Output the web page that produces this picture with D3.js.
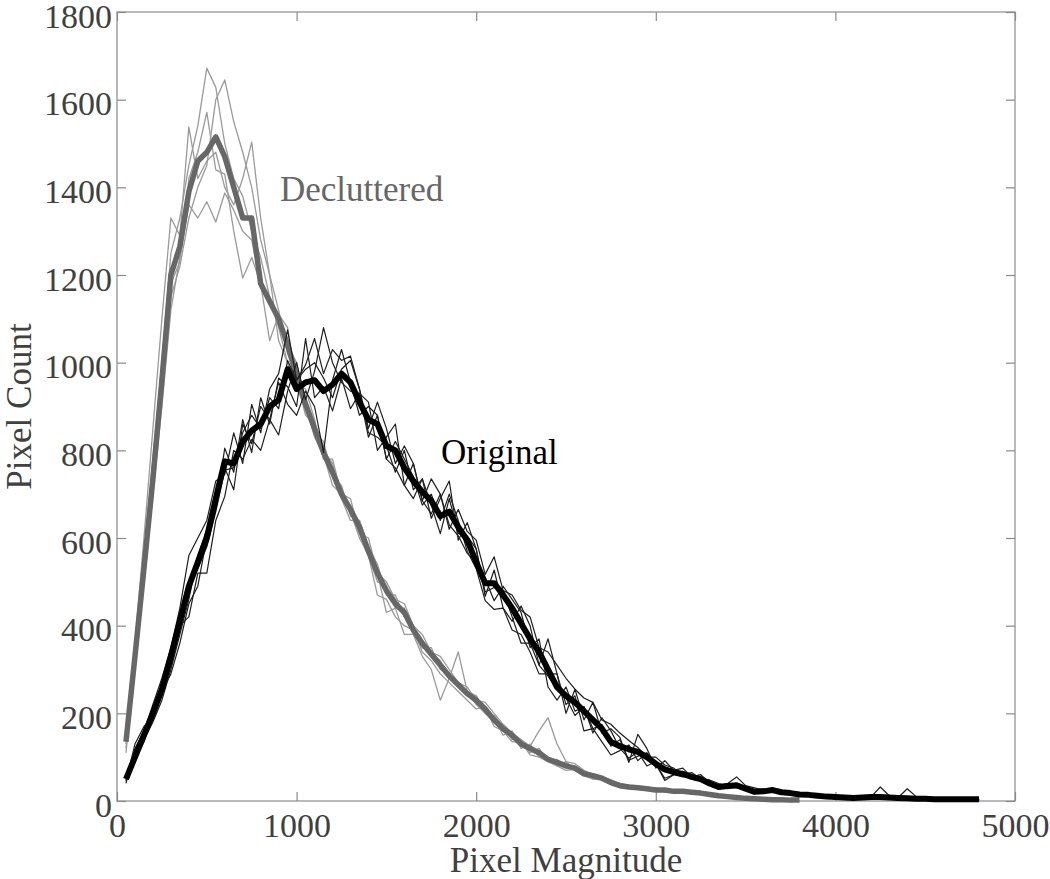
<!DOCTYPE html>
<html>
<head>
<meta charset="utf-8">
<script src="https://cdn.jsdelivr.net/npm/d3@7"></script>
<style>
  html, body { margin: 0; padding: 0; background: #fff; }
  svg { display: block; }
  text { font-family: "Liberation Serif", "Times New Roman", serif; }
</style>
</head>
<body>
<svg id="chart" width="1050" height="879"></svg>
<script>
// ---------------- DATA ----------------
const magnitudes = [50,100,150,200,250,300,350,400,450,500,550,600,650,700,750,800,850,900,950,1000,
  1050,1100,1150,1200,1250,1300,1350,1400,1450,1500,1550,1600,1650,1700,1750,1800,1850,1900,1950,2000,
  2050,2100,2150,2200,2250,2300,2350,2400,2450,2500,2550,2600,2650,2700,2750,2800,2850,2900,2950,3000,
  3050,3100,3150,3200,3250,3300,3350,3400,3450,3500,3550,3600,3650,3700,3750,3800,3850,3900,3950,4000,
  4050,4100,4150,4200,4250,4300,4350,4400,4450,4500,4550,4600,4650,4700,4750,4800];

const xTicks = [0,1000,2000,3000,4000,5000];
const yTicks = [0,200,400,600,800,1000,1200,1400,1600,1800];

// Decluttered: mean curve
const declutteredMean = [135,330,530,735,960,1200,1265,1390,1460,1480,
  1515,1470,1400,1330,1330,1180,1140,1100,1040,970,
  905,850,795,750,700,665,625,570,520,480,
  450,430,390,360,335,310,285,265,245,230,
  210,185,165,150,130,120,110,95,88,80,
  75,62,58,52,42,35,32,30,28,25,
  25,22,22,20,18,15,12,10,8,6,
  5,4,3,3,2,2];

// Decluttered: individual runs
const declutteredRun1 = [120,350,560,780,1000,1250,1330,1450,1540,1672,
  1628,1500,1420,1380,1300,1240,1150,1080,1000,960,
  880,860,780,760,690,640,640,560,500,490,
  440,440,380,350,350,300,290,260,250,220,
  200,190,150,160,120,130,100,100,80,90,
  70,65,50,55,40,40,30,35,25,30,
  20,25,20,22,15,18,10,12,8,6,
  5,4,3,2,2,1];
const declutteredRun2 = [140,300,500,700,930,1150,1220,1330,1400,1450,
  1600,1645,1550,1480,1400,1280,1200,1120,1020,990,
  920,840,820,740,720,650,640,580,540,470,
  470,420,400,350,340,320,280,270,240,240,
  200,195,170,140,140,110,120,90,95,75,
  80,60,62,50,45,38,35,28,30,22,
  28,20,24,18,20,14,12,9,8,6,
  5,3,3,2,1,1];
const declutteredRun3 = [130,360,600,850,1100,1330,1290,1538,1420,1460,
  1480,1400,1360,1420,1503,1330,1200,1050,1000,940,
  900,830,790,720,700,660,600,560,470,460,
  420,400,390,340,320,290,270,250,230,210,
  215,170,160,135,135,105,100,90,80,70,
  72,58,50,48,40,32,28,30,25,24,
  22,20,18,18,16,14,10,10,7,6,
  4,4,3,2,2,1];
const declutteredRun4 = [150,310,520,720,940,1180,1230,1420,1480,1571,
  1440,1430,1300,1193,1240,1180,1050,1110,1080,950,
  940,870,780,780,700,690,610,600,520,500,
  460,450,400,380,340,330,300,270,260,230,
  225,200,175,155,140,125,160,190,130,90,
  85,70,60,55,48,40,36,32,30,28,
  26,24,22,20,18,16,13,11,9,7,
  6,5,4,3,2,1];
const declutteredRun5 = [110,320,500,700,900,1120,1240,1360,1330,1367,
  1321,1387,1348,1300,1280,1180,1150,1090,1040,1000,
  900,860,800,770,690,660,610,560,520,430,
  440,380,380,330,300,230,280,340,250,240,
  200,180,170,150,125,115,105,95,90,85,
  70,60,55,50,42,36,32,30,26,24,
  24,22,20,18,16,15,12,10,8,6,
  5,4,3,3,2,1];

// Original: mean curve
const originalMean = [50,100,150,200,255,330,410,490,545,600,
  690,775,770,820,845,860,900,915,985,940,
  955,960,935,950,975,955,910,870,860,810,
  800,760,730,705,685,650,660,625,595,545,
  497,497,470,440,405,370,340,300,260,240,
  225,205,185,165,135,125,118,112,100,85,
  72,66,62,55,50,40,32,34,36,28,
  21,22,25,20,18,15,14,12,10,9,
  8,7,8,9,9,8,7,6,5,5,
  4,4,4,4,4,4];

// Original: individual runs
const originalRun1 = [40,120,160,220,280,350,440,560,600,640,
  730,745,840,770,905,840,940,975,1075,960,
  995,1055,975,1030,1005,1015,940,850,910,850,
  770,810,770,685,735,700,620,665,615,595,
  517,557,480,470,435,420,350,340,310,280,
  255,235,225,185,175,155,138,122,100,100,
  82,75,60,65,50,48,40,35,38,30,
  25,28,22,20,18,16,14,12,10,12,
  9,8,10,8,7,7,6,5,5,4,
  4,3,3,3,3,3];
const originalRun2 = [55,100,140,180,230,300,380,460,560,620,
  700,760,710,860,815,900,870,835,935,1000,
  915,980,1080,1000,955,935,930,910,800,830,
  860,720,690,735,645,690,730,595,635,575,
  467,527,440,410,445,400,310,370,290,200,
  255,185,225,155,165,145,88,152,120,75,
  92,70,75,55,60,42,36,40,55,35,
  30,25,30,24,22,18,15,14,12,10,
  9,8,12,10,32,12,8,28,10,5,
  4,4,3,3,3,3];
const originalRun3 = [45,130,170,190,260,310,400,420,520,520,
  640,695,800,780,825,800,870,955,905,880,
  935,900,795,960,1030,955,880,900,880,780,
  820,780,740,675,700,640,700,640,570,530,
  457,437,440,390,380,340,290,290,290,220,
  240,160,165,135,105,115,128,92,110,85,
  47,60,68,50,45,38,30,32,30,25,
  20,22,20,18,16,14,13,12,9,8,
  7,6,6,8,7,6,5,5,4,4,
  3,3,3,2,2,2];
const originalRun4 = [50,105,145,210,240,330,420,500,530,580,
  660,755,760,840,880,850,920,895,1005,960,
  985,1000,965,920,985,1005,940,840,830,810,
  750,800,710,735,675,610,690,610,605,575,
  477,487,480,420,360,360,310,285,255,235,
  195,215,165,175,125,140,93,102,110,85,
  52,60,55,58,48,40,35,28,32,26,
  18,20,22,18,16,14,12,11,10,9,
  8,7,7,8,8,7,6,6,5,4,
  4,3,3,3,3,3];
const originalRun5 = [48,95,135,200,250,290,360,450,490,600,
  670,805,750,870,795,920,860,965,945,900,
  1055,920,945,890,965,895,930,830,880,780,
  760,720,770,685,655,700,630,605,565,545,
  507,457,490,460,430,350,370,260,230,260,
  205,215,155,190,160,120,98,112,80,90,
  67,68,60,50,50,38,30,30,34,28,
  22,20,24,18,16,15,13,11,10,9,
  8,7,7,8,8,7,6,5,5,4,
  4,4,3,3,3,3];

// ---------------- CHART ----------------
const W = 1050, H = 879;
const plot = { left: 117, right: 1015, top: 12, bottom: 801 };
const FONT = 34;
const axisColor = "#8a8a8a";
const textColor = "#404040";

const svg = d3.select("#chart");
const x = d3.scaleLinear().domain([0, 5000]).range([plot.left, plot.right]);
const y = d3.scaleLinear().domain([0, 1800]).range([plot.bottom, plot.top]);

const toPoints = arr => arr.map((v, i) => [magnitudes[i], v]);
const line = d3.line().x(d => x(d[0])).y(d => y(d[1]));

// box
svg.append("rect")
  .attr("x", plot.left).attr("y", plot.top)
  .attr("width", plot.right - plot.left).attr("height", plot.bottom - plot.top)
  .attr("fill", "none").attr("stroke", axisColor).attr("stroke-width", 1.2);

function styleAxis(g, showLabels) {
  g.select(".domain").remove();
  g.selectAll(".tick line").attr("stroke", axisColor).attr("stroke-width", 1.2);
  g.selectAll(".tick text")
    .attr("fill", textColor)
    .style("font-size", FONT + "px")
    .style("font-family", '"Liberation Serif", serif');
  if (!showLabels) g.selectAll(".tick text").remove();
}

svg.append("g").attr("transform", `translate(0,${plot.bottom})`)
  .call(d3.axisBottom(x).tickValues(xTicks).tickFormat(d3.format("d")).tickSize(-9).tickPadding(12))
  .call(g => styleAxis(g, true));
svg.append("g").attr("transform", `translate(0,${plot.top})`)
  .call(d3.axisTop(x).tickValues(xTicks).tickSize(-9))
  .call(g => styleAxis(g, false));
svg.append("g").attr("transform", `translate(${plot.left},0)`)
  .call(d3.axisLeft(y).tickValues(yTicks).tickFormat(d3.format("d")).tickSize(-9).tickPadding(5))
  .call(g => styleAxis(g, true))
  .call(g => g.selectAll(".tick text").attr("dy", "0.45em"));
svg.append("g").attr("transform", `translate(${plot.right},0)`)
  .call(d3.axisRight(y).tickValues(yTicks).tickSize(-9))
  .call(g => styleAxis(g, false));

// lines
const lines = svg.append("g").attr("fill", "none").attr("stroke-linejoin", "round");
[declutteredRun1, declutteredRun2, declutteredRun3, declutteredRun4, declutteredRun5].forEach(r => {
  lines.append("path").attr("d", line(toPoints(r)))
    .attr("stroke", "#9a9a9a").attr("stroke-width", 1.3);
});
lines.append("path").attr("d", line(toPoints(declutteredMean)))
  .attr("stroke", "#676767").attr("stroke-width", 5.5);

[originalRun1, originalRun2, originalRun3, originalRun4, originalRun5].forEach(r => {
  lines.append("path").attr("d", line(toPoints(r)))
    .attr("stroke", "#1e1e1e").attr("stroke-width", 1.2);
});
lines.append("path").attr("d", line(toPoints(originalMean)))
  .attr("stroke", "#000").attr("stroke-width", 6);

// annotations
svg.append("text").attr("x", 280).attr("y", 201)
  .attr("fill", "#666").style("font-size", "35px").text("Decluttered");
svg.append("text").attr("x", 441).attr("y", 464)
  .attr("fill", "#000").style("font-size", "35px").text("Original");

// axis labels
svg.append("text")
  .attr("x", (plot.left + plot.right) / 2).attr("y", 872)
  .attr("text-anchor", "middle").attr("fill", textColor)
  .style("font-size", "35px").text("Pixel Magnitude");
svg.append("text")
  .attr("transform", `translate(31,${(plot.top + plot.bottom) / 2}) rotate(-90)`)
  .attr("text-anchor", "middle").attr("fill", textColor)
  .style("font-size", "35px").text("Pixel Count");
</script>
</body>
</html>
